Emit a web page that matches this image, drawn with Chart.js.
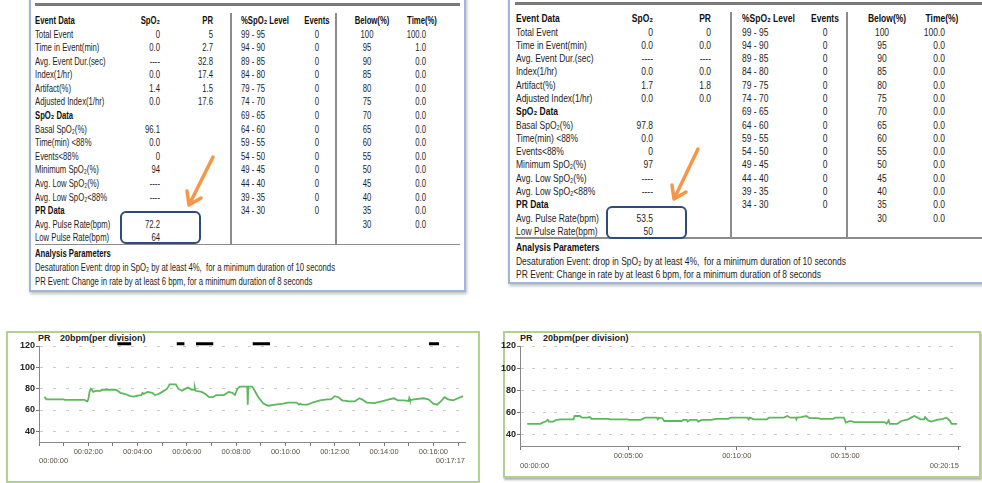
<!DOCTYPE html>
<html>
<head>
<meta charset="utf-8">
<script src="https://cdn.jsdelivr.net/npm/chart.js@4.4.1/dist/chart.umd.min.js"></script>
<style>
  html, body { margin: 0; padding: 0; background: #fff; }
  body { width: 982px; height: 483px; position: relative; overflow: hidden; font-family: "Liberation Sans", Arial, sans-serif; }
  .abs { position: absolute; }
  .txt { position: absolute; white-space: pre; font-size: 11px; line-height: 14px; height: 14px; color: #1e1e1e; }
  .b { font-weight: bold; color: #111; }
  .marco { position: absolute; box-sizing: border-box; border: 2px solid #9db6d9; box-shadow: 1px 2px 3px rgba(0,0,0,0.25); }
  .barra { position: absolute; background: #7a7a7a; }
  .sep { position: absolute; background: #8c8c8c; }
  .caja { position: absolute; box-sizing: border-box; border: 2px solid #2f4b7c; border-radius: 6px; }
  .verde { position: absolute; box-sizing: border-box; border: 2px solid #b2d08e; }
  .tit { position: absolute; font-size: 9px; font-weight: bold; line-height: 12px; color: #222; white-space: nowrap; }
  .graf { position: absolute; }
</style>
</head>
<body>

<!-- marcos de las tablas -->
<div class="marco" style="left:29px; top:-6px; width:437px; height:298px;"></div>
<div class="marco" style="left:508px; top:-6px; width:490px; height:290px;"></div>
<div class="barra" style="left:35px; top:3px; width:425px; height:2.5px;"></div>
<div class="barra" style="left:515px; top:2px; width:467px; height:2.5px;"></div>
<div class="sep" style="left:230px; top:13px; width:1.5px; height:231px;"></div>
<div class="sep" style="left:335px; top:13px; width:1.5px; height:231px;"></div>
<div class="sep" style="left:730px; top:12px; width:1.5px; height:226px;"></div>
<div class="sep" style="left:846px; top:12px; width:1.5px; height:226px;"></div>
<div class="sep" style="left:35px; top:243.5px; width:425px; height:1.5px;"></div>
<div class="sep" style="left:515px; top:237px; width:467px; height:1.5px;"></div>
<div class="caja" style="left:120px; top:211px; width:81px; height:33px;"></div>
<div class="caja" style="left:606px; top:206px; width:81px; height:33px;"></div>

<svg class="abs" style="left:0; top:0;" width="982" height="483">
  <g fill="none" stroke="#f79646" stroke-width="3.5" stroke-linecap="round" stroke-linejoin="round">
    <path d="M213 157 L189 205 M201 198 L189 205 L187 191"/>
    <path d="M698 149 L674 199 M686 192 L674 199 L672 185"/>
  </g>
</svg>

<!-- marcos de los graficos -->
<div class="verde" style="left:6px; top:331px; width:474px; height:152px;"></div>
<div class="verde" style="left:503px; top:331px; width:478px; height:147px; box-shadow: 1px 2px 2px rgba(0,0,0,0.3);"></div>
<div class="tit" style="left:38px; top:332px;">PR</div>
<div class="tit" style="left:60px; top:332px;">20bpm(per division)</div>
<div class="tit" style="left:520px; top:332px;">PR</div>
<div class="tit" style="left:543px; top:332px;">20bpm(per division)</div>

<div class="graf" style="left:8px; top:333px; width:470px; height:148px;"><canvas id="prIzq"></canvas></div>
<div class="graf" style="left:499px; top:333px; width:480px; height:143px;"><canvas id="prDer"></canvas></div>

<script>
// ---- datos de las tablas ----
const etiquetasEvento = ["Total Event", "Time in Event(min)", "Avg. Event Dur.(sec)", "Index(1/hr)", "Artifact(%)", "Adjusted Index(1/hr)"];
const etiquetasSpo2 = ["Basal SpO\u2082(%)", "Time(min) <88%", "Events<88%", "Minimum SpO\u2082(%)", "Avg. Low SpO\u2082(%)", "Avg. Low SpO\u2082<88%"];
const etiquetasPr = ["Avg. Pulse Rate(bpm)", "Low Pulse Rate(bpm)"];
const niveles = ["99 - 95", "94 - 90", "89 - 85", "84 - 80", "79 - 75", "74 - 70", "69 - 65", "64 - 60", "59 - 55", "54 - 50", "49 - 45", "44 - 40", "39 - 35", "34 - 30"];
const eventosNivel = ["0", "0", "0", "0", "0", "0", "0", "0", "0", "0", "0", "0", "0", "0"];
const debajo = ["100", "95", "90", "85", "80", "75", "70", "65", "60", "55", "50", "45", "40", "35", "30"];

const spo2EventoIzq = ["0", "0.0", "----", "0.0", "1.4", "0.0"];
const prEventoIzq = ["5", "2.7", "32.8", "17.4", "1.5", "17.6"];
const spo2DatosIzq = ["96.1", "0.0", "0", "94", "----", "----"];
const prDatosIzq = ["72.2", "64"];
const tiempoIzq = ["100.0", "1.0", "0.0", "0.0", "0.0", "0.0", "0.0", "0.0", "0.0", "0.0", "0.0", "0.0", "0.0", "0.0", "0.0"];

const spo2EventoDer = ["0", "0.0", "----", "0.0", "1.7", "0.0"];
const prEventoDer = ["0", "0.0", "----", "0.0", "1.8", "0.0"];
const spo2DatosDer = ["97.8", "0.0", "0", "97", "----", "----"];
const prDatosDer = ["53.5", "50"];
const tiempoDer = ["100.0", "0.0", "0.0", "0.0", "0.0", "0.0", "0.0", "0.0", "0.0", "0.0", "0.0", "0.0", "0.0", "0.0", "0.0"];

const parametros = ["Analysis Parameters",
  "Desaturation Event: drop in SpO\u2082 by at least 4%,  for a minimum duration of 10 seconds",
  "PR Event: Change in rate by at least 6 bpm, for a minimum duration of 8 seconds"];

// ---- datos de los graficos (minutos, bpm) ----
const minutosIzq = [0.22, 0.3, 1.0, 1.05, 1.85, 1.95, 2.0, 2.05, 2.1, 2.15, 2.2, 2.3, 2.5, 2.55, 3.1, 3.2, 3.3, 3.5, 3.7, 3.85,
  4.0, 4.15, 4.2, 4.25, 4.4, 4.6, 4.7, 4.85, 5.0, 5.2, 5.3, 5.55, 5.65, 5.8, 5.95, 6.05, 6.2, 6.3, 6.32, 6.35,
  6.6, 6.75, 6.9, 7.05, 7.2, 7.5, 7.7, 7.85, 7.95, 8.05, 8.15, 8.45, 8.47, 8.49, 8.65, 8.75, 8.9, 9.1, 9.3, 9.6,
  9.9, 10.1, 10.45, 10.55, 10.6, 10.65, 10.9, 11.1, 11.4, 11.7, 11.85, 12.0, 12.15, 12.3, 12.6, 12.8, 13.0, 13.1, 13.3, 13.6,
  13.9, 14.2, 14.4, 14.55, 14.8, 15.0, 15.02, 15.05, 15.2, 15.6, 15.8, 16.0, 16.15, 16.3, 16.45, 16.6, 16.8, 17.0, 17.2];
const pulsoIzq = [72.5, 70, 70, 69.5, 69.5, 68, 70, 77, 80, 79, 77, 78, 78, 79, 79, 78, 76, 75, 73, 72.5,
  73.5, 74, 76, 75, 77, 76, 74, 75, 77, 80, 84, 84, 80, 78, 80, 81, 79, 79, 81, 78,
  77, 75, 72, 72, 74, 74, 77, 76, 74, 80, 82, 82, 65, 82, 82, 78, 72, 66, 64, 65,
  66, 67, 67, 65, 66, 65, 65, 67, 69, 70, 70, 73, 72, 69, 68, 68, 71, 70, 67, 66.5,
  68, 70, 71, 69, 69, 68.5, 71, 69, 70, 71, 70, 66, 65, 68, 72, 70, 69, 71, 73];
// eventos PR (barras negras arriba)
const eventoIni = [3.18, 5.59, 6.37, 8.67, 15.82];
const eventoFin = [3.74, 5.9, 7.07, 9.37, 16.23];

const minutosDer = [0.33, 0.94, 1.04, 1.18, 1.28, 1.33, 1.53, 1.68, 1.92, 2.47, 2.52, 2.76, 2.86, 3.11, 3.21, 3.30, 4.09, 4.19, 4.98, 5.03,
  5.57, 5.77, 6.31, 6.36, 6.41, 6.56, 6.66, 7.45, 7.54, 7.69, 7.74, 7.84, 8.14, 8.23, 8.38, 8.83, 9.02, 9.61, 9.71, 10.5,
  10.55, 10.6, 10.8, 11.39, 11.49, 12.18, 12.33, 12.47, 12.72, 12.75, 12.78, 12.97, 13.21, 13.36, 13.76, 13.85, 14.45, 14.54, 14.94, 15.04,
  15.23, 15.43, 16.81, 16.91, 17.01, 17.06, 17.4, 17.6, 17.9, 18.09, 18.19, 18.34, 18.49, 18.64, 18.69, 18.83, 18.98, 19.23, 19.52, 19.67,
  19.82, 19.92, 20.16];
const pulsoDer = [50, 50, 51, 52, 53.5, 52, 52, 53.5, 54, 54, 57, 57, 55.5, 55.5, 56, 54.5, 54.5, 54, 54, 53.5,
  53.5, 55.5, 55.5, 54, 55.5, 55, 52.5, 52.5, 53.5, 53.5, 52, 53.5, 53.5, 52, 53.5, 53.5, 54.5, 54.5, 55.5, 55.5,
  54, 55.5, 54, 54, 55.5, 55.5, 57, 55.5, 55.5, 54, 55.5, 56, 57, 55, 55, 54.5, 54.5, 55.5, 55.5, 51,
  52.5, 51.5, 51.5, 50, 53, 50, 50, 52.5, 54, 56, 57, 55.5, 54, 54, 56, 53, 52, 53.5, 54.5, 55.5,
  53, 50, 50];

// marcas de los ejes
const marcasY = [40, 60, 80, 100, 120];
const marcasIzq = [0, 1, 2, 3, 4, 5, 6, 7, 8, 9, 10, 11, 12, 13, 14, 15, 16, 17];
const minEtiqIzq = [2, 4, 6, 8, 10, 12, 14, 16];
const textoEtiqIzq = ["00:02:00", "00:04:00", "00:06:00", "00:08:00", "00:10:00", "00:12:00", "00:14:00", "00:16:00"];
const extremosIzq = ["00:00:00", "00:17:17"];
const duracionIzq = 17.283;
const marcasDer = [0, 5, 10, 15, 20.25];
const minEtiqDer = [5, 10, 15];
const textoEtiqDer = ["00:05:00", "00:10:00", "00:15:00"];
const extremosDer = ["00:00:00", "00:20:15"];
const duracionDer = 20.25;

// ---- tablas como texto posicionado ----
function texto(grupo, x, y, str, alin, negrita) {
  const s = document.createElement("span");
  s.className = "txt" + (negrita ? " b" : "");
  s.textContent = str;
  s.style.left = x + "px";
  s.style.top = (y - 7) + "px";
  s.dataset.alin = alin;
  document.body.appendChild(s);
  grupo.push(s);
  return s;
}

function escalar(grupo, k) {
  grupo.forEach(s => {
    const a = s.dataset.alin;
    if (a === "r") { s.style.transformOrigin = "100% 50%"; s.style.transform = `translateX(-100%) scaleX(${k})`; }
    else if (a === "c") { s.style.transformOrigin = "50% 50%"; s.style.transform = `translateX(-50%) scaleX(${k})`; }
    else { s.style.transformOrigin = "0 50%"; s.style.transform = `scaleX(${k})`; }
  });
}

function armarTabla(c, spo2Ev, prEv, spo2Dat, prDat, tiempo) {
  const g = [];
  const fila = i => c.y0 + c.paso * i;
  texto(g, c.xEtq, fila(0), "Event Data", "l", true);
  texto(g, c.xSpo2, fila(0), "SpO\u2082", "r", true);
  texto(g, c.xPr, fila(0), "PR", "r", true);
  texto(g, c.xNivel, fila(0), "%SpO\u2082 Level", "l", true);
  texto(g, c.xEv, fila(0), "Events", "c", true);
  texto(g, c.xDebHdr, fila(0), "Below(%)", "c", true);
  texto(g, c.xTiempoHdr, fila(0), "Time(%)", "c", true);
  etiquetasEvento.forEach((e, i) => {
    texto(g, c.xEtq, fila(1 + i), e, "l");
    texto(g, c.xSpo2, fila(1 + i), spo2Ev[i], "r");
    texto(g, c.xPr, fila(1 + i), prEv[i], "r");
  });
  texto(g, c.xEtq, fila(7), "SpO\u2082 Data", "l", true);
  etiquetasSpo2.forEach((e, i) => {
    texto(g, c.xEtq, fila(8 + i), e, "l");
    texto(g, c.xSpo2, fila(8 + i), spo2Dat[i], "r");
  });
  texto(g, c.xEtq, fila(14), "PR Data", "l", true);
  etiquetasPr.forEach((e, i) => {
    texto(g, c.xEtq, fila(15 + i), e, "l");
    texto(g, c.xSpo2, fila(15 + i), prDat[i], "r");
  });
  niveles.forEach((n, i) => {
    texto(g, c.xNivel, fila(1 + i), n, "l");
    texto(g, c.xEv, fila(1 + i), eventosNivel[i], "c");
  });
  debajo.forEach((d, i) => {
    texto(g, c.xDeb, fila(1 + i), d, "c");
    texto(g, c.xTiempo, fila(1 + i), tiempo[i], "r");
  });
  texto(g, c.xEtq, c.yPar[0], parametros[0], "l", true);
  const ref = texto(g, c.xEtq, c.yPar[1], parametros[1], "l");
  texto(g, c.xEtq, c.yPar[2], parametros[2], "l");
  const k = c.anchoRef / ref.getBoundingClientRect().width;
  escalar(g, k);
}

armarTabla({ y0: 20, paso: 13.58, xEtq: 35, xSpo2: 160, xPr: 213, xNivel: 241, xEv: 317, xDeb: 367, xDebHdr: 372,
  xTiempo: 426, xTiempoHdr: 422, yPar: [253.3, 267.3, 280.7], anchoRef: 300 },
  spo2EventoIzq, prEventoIzq, spo2DatosIzq, prDatosIzq, tiempoIzq);
armarTabla({ y0: 18.3, paso: 13.29, xEtq: 515.7, xSpo2: 653, xPr: 711, xNivel: 741.7, xEv: 825, xDeb: 882, xDebHdr: 887,
  xTiempo: 945, xTiempoHdr: 942, yPar: [247.3, 260.5, 274], anchoRef: 330 },
  spo2EventoDer, prEventoDer, spo2DatosDer, prDatosDer, tiempoDer);

// ---- graficos ----
Chart.defaults.font.family = '"Liberation Sans", Arial, sans-serif';
let charts = {};

function crearGrafico(canvasId, cfg) {
  const puntos = cfg.minutos.map((m, i) => ({ x: m, y: cfg.pulso[i] }));
  const datasets = [{
    data: puntos, borderColor: "#5cb85c", borderWidth: 1.8, pointRadius: 0, tension: 0
  }];
  if (cfg.ini.length) {
    const barras = [];
    cfg.ini.forEach((a, i) => {
      barras.push({ x: a, y: cfg.yEvento }, { x: cfg.fin[i], y: cfg.yEvento }, { x: cfg.fin[i], y: null });
    });
    datasets.push({ data: barras, borderColor: "#000", borderWidth: 3, pointRadius: 0, clip: false, spanGaps: false, borderCapStyle: "butt" });
  }
  const fuenteX = { size: 7.5 };
  charts[canvasId] = new Chart(document.getElementById(canvasId).getContext("2d"), {
    type: "line",
    data: { datasets },
    options: {
      responsive: true,
      maintainAspectRatio: false,
      animation: false,
      layout: { padding: { left: 0, top: cfg.padTop, right: cfg.padDer, bottom: cfg.padAbajo } },
      plugins: { legend: { display: false }, tooltip: { enabled: false } },
      scales: {
        x: {
          type: "linear", position: "bottom", weight: 0, min: 0, max: cfg.maxX,
          afterBuildTicks: s => { s.ticks = cfg.marcas.map(v => ({ value: v })); },
          afterFit: s => { s.height = cfg.altoX; },
          ticks: {
            autoSkip: false, maxRotation: 0, padding: 1, color: "#5a5240", font: fuenteX,
            callback: v => { const k = cfg.minEtiq.indexOf(v); return k >= 0 ? cfg.textoEtiq[k] : ""; }
          },
          grid: { drawOnChartArea: false, tickLength: 4, color: "#777", tickColor: "#777" },
          border: { color: "#888", width: 1 }
        },
        x2: {
          type: "linear", position: "bottom", weight: 1, min: 0, max: cfg.maxX,
          afterBuildTicks: s => { s.ticks = [{ value: 0 }, { value: cfg.duracion }]; },
          afterFit: s => { s.height = cfg.altoX2; },
          ticks: { align: "inner", autoSkip: false, maxRotation: 0, padding: cfg.padX2, color: "#5a5240", font: fuenteX,
            callback: (v, i) => cfg.extremos[i] },
          grid: { display: false, drawTicks: false },
          border: { display: false }
        },
        y: {
          min: 30, max: 120,
          afterBuildTicks: s => { s.ticks = marcasY.map(v => ({ value: v })); },
          afterFit: s => { s.width = cfg.anchoY; },
          ticks: { color: "#222", font: { size: 9, weight: "bold" }, padding: 1 },
          grid: { color: "#c9c9c9", tickLength: 3, tickColor: "#777", tickBorderDash: [] },
          border: { color: "#888", width: 1, dash: cfg.guion }
        }
      }
    }
  });
}

crearGrafico("prIzq", {
  minutos: minutosIzq, pulso: pulsoIzq, ini: eventoIni, fin: eventoFin, yEvento: 122,
  marcas: marcasIzq, minEtiq: minEtiqIzq, textoEtiq: textoEtiqIzq, extremos: extremosIzq,
  duracion: duracionIzq, maxX: duracionIzq,
  padTop: 13, padDer: 13, padAbajo: 13, altoX: 12, altoX2: 14, padX2: 2, anchoY: 31, guion: [3, 10]
});
crearGrafico("prDer", {
  minutos: minutosDer, pulso: pulsoDer, ini: [], fin: [], yEvento: 122,
  marcas: marcasDer, minEtiq: minEtiqDer, textoEtiq: textoEtiqDer, extremos: extremosDer,
  duracion: duracionDer, maxX: 20.3,
  padTop: 13, padDer: 19, padAbajo: 2, altoX: 14, altoX2: 14, padX2: 1, anchoY: 21, guion: [3, 8]
});
</script>
</body>
</html>
